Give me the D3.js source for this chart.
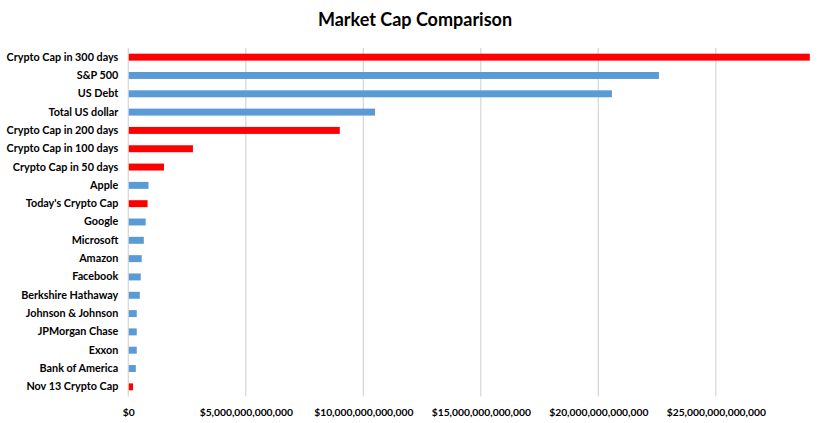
<!DOCTYPE html>
<html>
<head>
<meta charset="utf-8">
<script src="https://cdn.jsdelivr.net/npm/d3@7/dist/d3.min.js"></script>
<style>
  html, body { margin: 0; padding: 0; background: #fff; }
  svg { display: block; }
</style>
</head>
<body>
<svg id="chart" width="830" height="423"></svg>
<script>
const categories = [
  "Crypto Cap in 300 days", "S&P 500", "US Debt", "Total US dollar",
  "Crypto Cap in 200 days", "Crypto Cap in 100 days", "Crypto Cap in 50 days",
  "Apple", "Today's Crypto Cap", "Google", "Microsoft", "Amazon", "Facebook",
  "Berkshire Hathaway", "Johnson & Johnson", "JPMorgan Chase", "Exxon",
  "Bank of America", "Nov 13 Crypto Cap"
];
const values = [
  29.0e12, 22.58e12, 20.58e12, 10.5e12,
  9.0e12, 2.75e12, 1.52e12,
  0.86e12, 0.82e12, 0.74e12, 0.66e12, 0.57e12, 0.53e12,
  0.49e12, 0.36e12, 0.36e12, 0.36e12,
  0.32e12, 0.2e12
];
const isCrypto = [
  true, false, false, false,
  true, true, true,
  false, true, false, false, false, false,
  false, false, false, false,
  false, true
];
const tickValues = [0, 5e12, 10e12, 15e12, 20e12, 25e12];
const title = "Market Cap Comparison";

const svg = d3.select("#chart");
const font = "Lato, 'Open Sans', sans-serif";

const x = d3.scaleLinear().domain([0, 30e12]).range([128.3, 833.3]);
const y = d3.scaleBand().domain(categories).range([48, 396]).paddingInner(0.62).paddingOuter(0.31);

// gridlines
svg.append("g").selectAll("line")
  .data(tickValues)
  .join("line")
  .attr("x1", d => x(d)).attr("x2", d => x(d))
  .attr("y1", 48).attr("y2", 396.5)
  .attr("stroke", "#d9d9d9").attr("stroke-width", 1.3);

// bars
svg.append("g").selectAll("rect")
  .data(categories)
  .join("rect")
  .attr("x", x(0) + 0.5)
  .attr("y", d => y(d))
  .attr("width", (d, i) => x(values[i]) - x(0) - 0.5)
  .attr("height", y.bandwidth())
  .attr("fill", (d, i) => isCrypto[i] ? "#ff0000" : "#5b9bd5");

// y axis labels
const yAxis = d3.axisLeft(y).tickSize(0).tickPadding(10);
const yg = svg.append("g").attr("transform", `translate(${x(0)},0)`).call(yAxis);
yg.select(".domain").remove();
yg.selectAll("text")
  .attr("font-family", font).attr("font-size", "10.8px").attr("font-weight", 700)
  .attr("fill", "#000");

// x axis labels
const fmt = d => "$" + d3.format(",.0f")(d);
const xAxis = d3.axisBottom(x).tickValues(tickValues).tickFormat(fmt).tickSize(0).tickPadding(10);
const xg = svg.append("g").attr("transform", `translate(0,399)`).call(xAxis);
xg.select(".domain").remove();
xg.selectAll("text")
  .attr("font-family", font).attr("font-size", "10.3px").attr("font-weight", 700)
  .attr("fill", "#000");

// title
svg.append("text")
  .attr("x", 415).attr("y", 26)
  .attr("text-anchor", "middle")
  .attr("font-family", font).attr("font-size", "18px").attr("font-weight", 700)
  .attr("fill", "#000")
  .text(title);
</script>
</body>
</html>
